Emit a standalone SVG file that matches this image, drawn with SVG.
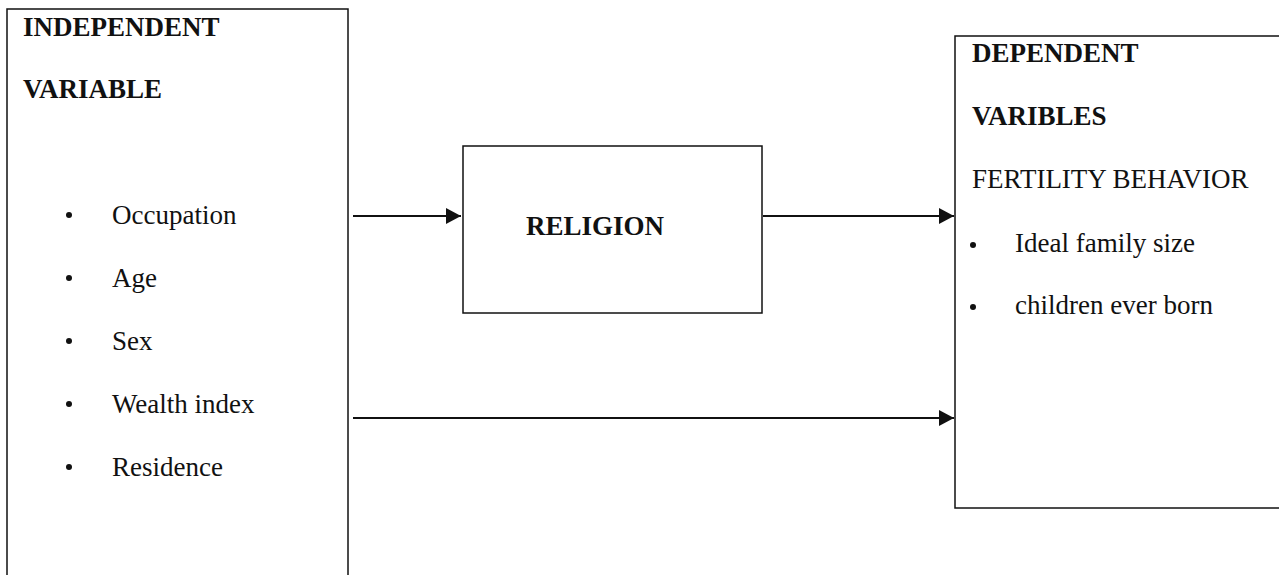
<svg xmlns="http://www.w3.org/2000/svg" width="1279" height="575" viewBox="0 0 1279 575">
<style>
.box{fill:#fff;stroke:#111;stroke-width:1.5}
.t{font-family:"Liberation Serif","Times New Roman",serif;font-size:27px;fill:#111}
.b{font-weight:bold}
.conn{stroke:#111;stroke-width:2;fill:none}
.dot{fill:#111}
</style>
<defs>
<marker id="ah" markerWidth="15" markerHeight="16" refX="15" refY="8" orient="auto" markerUnits="userSpaceOnUse">
<path d="M0,0 L15,8 L0,16 Z" fill="#111"/>
</marker>
</defs>
<rect width="1279" height="575" fill="#fff"/>
<g id="independent">
<rect class="box" x="7" y="9" width="341" height="590"/>
<text class="t b" x="23" y="36">INDEPENDENT</text>
<text class="t b" x="23" y="98">VARIABLE</text>
<circle class="dot" cx="69" cy="215" r="3"/>
<text class="t" x="112" y="224">Occupation</text>
<circle class="dot" cx="69" cy="278" r="3"/>
<text class="t" x="112" y="287">Age</text>
<circle class="dot" cx="69" cy="341" r="3"/>
<text class="t" x="112" y="350">Sex</text>
<circle class="dot" cx="69" cy="404" r="3"/>
<text class="t" x="112" y="413">Wealth index</text>
<circle class="dot" cx="69" cy="467" r="3"/>
<text class="t" x="112" y="476">Residence</text>
</g>
<g id="religion">
<rect class="box" x="463" y="146" width="299" height="167"/>
<text class="t b" x="526" y="235">RELIGION</text>
</g>
<g id="dependent">
<rect class="box" x="955" y="36" width="340" height="472"/>
<text class="t b" x="972" y="62">DEPENDENT</text>
<text class="t b" x="972" y="125">VARIBLES</text>
<text class="t" x="972" y="188">FERTILITY BEHAVIOR</text>
<circle class="dot" cx="973" cy="245" r="3"/>
<text class="t" x="1015" y="252">Ideal family size</text>
<circle class="dot" cx="973" cy="307" r="3"/>
<text class="t" x="1015" y="314">children ever born</text>
</g>
<g id="connectors">
<line class="conn" x1="353" y1="216" x2="461" y2="216" marker-end="url(#ah)"/>
<line class="conn" x1="763" y1="216" x2="954" y2="216" marker-end="url(#ah)"/>
<line class="conn" x1="353" y1="418" x2="954" y2="418" marker-end="url(#ah)"/>
</g>
</svg>
